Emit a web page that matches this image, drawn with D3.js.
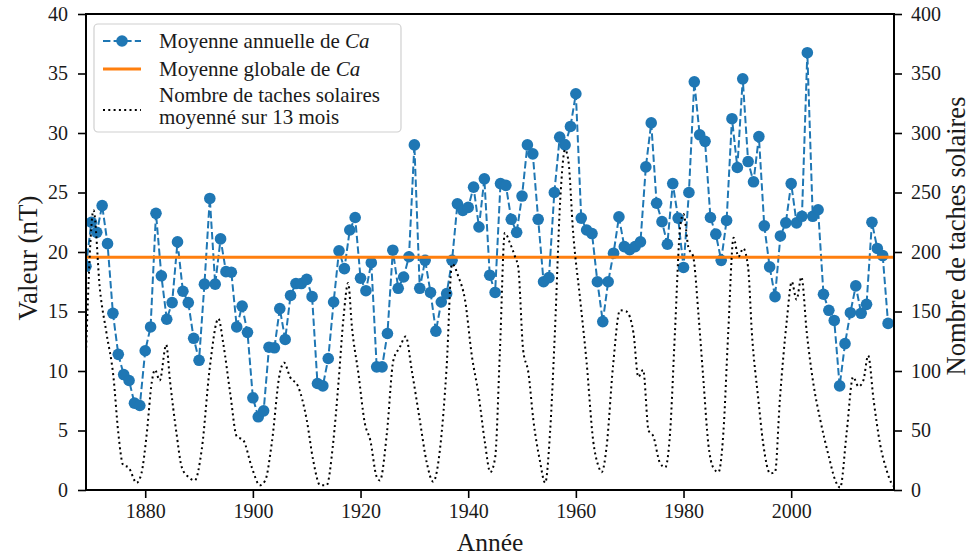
<!DOCTYPE html>
<html>
<head>
<meta charset="utf-8">
<script src="https://cdn.jsdelivr.net/npm/d3@7"></script>
<style>
  body { margin: 0; background: #fff; }
  svg text { font-family: "Liberation Serif", "Times New Roman", Times, "DejaVu Serif", serif; }
</style>
</head>
<body>
<div id="viz"></div>
<script>
// annual mean of Ca, one value per year from 1869 to 2018
const years = d3.range(1869, 2019);
const caAnnual = [
  18.8, 22.5, 21.65, 23.9, 20.7, 14.85, 11.4, 9.7, 9.2, 7.3,
  7.1, 11.7, 13.7, 23.25, 18.0, 14.35, 15.75, 20.85, 16.7, 15.75,
  12.75, 10.9, 17.3, 24.5, 17.3, 21.1, 18.35, 18.3, 13.7, 15.45,
  13.25, 7.75, 6.15, 6.65, 12.0, 11.95, 15.25, 12.65, 16.35, 17.35,
  17.35, 17.7, 16.25, 8.95, 8.75, 11.05, 15.8, 20.1, 18.6, 21.85,
  22.9, 17.8, 16.75, 19.1, 10.35, 10.35, 13.15, 20.15, 16.95, 17.9,
  19.6, 29.0, 16.95, 19.3, 16.6, 13.35, 15.8, 16.5, 19.3, 24.05,
  23.5, 23.75, 25.45, 22.1, 26.15, 18.05, 16.6, 25.75, 25.6, 22.75,
  21.65, 24.7, 29.0, 28.25, 22.75, 17.5, 17.85, 25.0, 29.65, 29.0,
  30.55, 33.3, 22.85, 21.85, 21.55, 17.5, 14.15, 17.5, 19.9, 22.95,
  20.45, 20.2, 20.45, 20.85, 27.15, 30.85, 24.1, 22.55, 20.65, 25.75,
  22.85, 18.7, 25.0, 34.3, 29.85, 29.3, 22.9, 21.5, 19.3, 22.65,
  31.2, 27.1, 34.55, 27.6, 25.9, 29.7, 22.2, 18.75, 16.25, 21.35,
  22.45, 25.75, 22.45, 23.0, 36.75, 23.0, 23.55, 16.45, 15.1, 14.25,
  8.75, 12.3, 14.9, 17.15, 14.85, 15.6, 22.5, 20.3, 19.7, 14.0
];
const globalMean = 19.55;

// sunspot number, 13-month smoothed
const ssnYears = [
  1869.0, 1870.4, 1871.6, 1872.8, 1874.1, 1875.0, 1875.9, 1876.9, 1878.4, 1879.3,
  1880.3, 1881.2, 1881.8, 1882.7, 1883.9, 1884.6, 1885.8, 1886.8, 1888.0, 1889.2,
  1890.5, 1892.0, 1893.6, 1894.5, 1895.8, 1897.0, 1898.2, 1899.8, 1901.3, 1902.3,
  1903.5, 1905.0, 1905.8, 1906.9, 1908.4, 1910.0, 1911.2, 1912.5, 1913.7, 1914.9,
  1915.9, 1916.8, 1917.7, 1918.4, 1919.6, 1920.8, 1921.8, 1923.0, 1923.6, 1924.9,
  1926.1, 1927.3, 1928.4, 1929.5, 1931.0, 1932.3, 1933.5, 1934.8, 1936.0, 1937.0,
  1938.2, 1939.4, 1940.7, 1941.9, 1943.1, 1944.1, 1945.0, 1945.9, 1946.8, 1947.8,
  1948.7, 1949.3, 1950.2, 1951.2, 1952.1, 1953.3, 1954.3, 1955.2, 1956.1, 1957.1,
  1958.0, 1958.6, 1959.5, 1960.8, 1962.0, 1963.2, 1964.2, 1964.8, 1965.7, 1966.9,
  1968.2, 1969.4, 1970.7, 1971.6, 1972.5, 1973.5, 1974.4, 1975.6, 1976.6, 1977.5,
  1978.4, 1979.4, 1980.0, 1980.9, 1981.8, 1982.8, 1983.7, 1984.6, 1985.5, 1986.5,
  1987.4, 1988.3, 1989.3, 1990.2, 1991.1, 1992.0, 1992.7, 1993.9, 1994.8, 1996.1,
  1997.0, 1997.9, 1999.2, 2000.1, 2001.0, 2001.9, 2002.9, 2004.1, 2005.4, 2007.0,
  2008.2, 2009.1, 2010.3, 2011.5, 2012.5, 2013.4, 2014.3, 2015.3, 2016.5, 2017.7,
  2018.6, 2019.1
];
const ssnValues = [
  115, 235, 168, 132, 95, 48, 21, 19, 6, 14,
  48, 90, 101, 92, 122, 92, 48, 19, 11, 8,
  34, 103, 144, 123, 81, 45, 42, 19, 4, 8,
  39, 98, 107, 95, 87, 59, 25, 4, 4, 39,
  90, 143, 174, 137, 98, 56, 42, 11, 8, 48,
  109, 120, 129, 101, 59, 23, 7, 36, 104, 190,
  179, 160, 112, 81, 40, 15, 27, 118, 216, 207,
  196, 187, 118, 98, 59, 25, 6, 48, 132, 244,
  286, 277, 216, 160, 107, 42, 20, 15, 36, 104,
  151, 150, 132, 95, 101, 50, 45, 23, 19, 48,
  132, 222, 232, 204, 196, 146, 92, 39, 19, 15,
  48, 132, 212, 196, 203, 187, 132, 76, 39, 14,
  15, 76, 143, 175, 160, 179, 132, 90, 59, 28,
  8, 2, 48, 95, 87, 92, 113, 76, 39, 17,
  6, 3
];

const xTicks = [1880, 1900, 1920, 1940, 1960, 1980, 2000];
const leftTicks = [0, 5, 10, 15, 20, 25, 30, 35, 40];
const rightTicks = [0, 50, 100, 150, 200, 250, 300, 350, 400];

const width = 973, height = 558;
const margin = { left: 86, right: 79, top: 14, bottom: 68 };
const plotW = width - margin.left - margin.right;
const plotH = height - margin.top - margin.bottom;

const blue = '#1f77b4', orange = '#ff7f0e';
const serif = '"Liberation Serif", "Times New Roman", Times, "DejaVu Serif", serif';

const svg = d3.select('#viz').append('svg')
  .attr('width', width)
  .attr('height', height);

const x = d3.scaleLinear().domain([1869, 2019.1]).range([margin.left, margin.left + plotW]);
const yL = d3.scaleLinear().domain([0, 40]).range([margin.top + plotH, margin.top]);
const yR = d3.scaleLinear().domain([0, 400]).range([margin.top + plotH, margin.top]);

svg.append('clipPath').attr('id', 'plot-clip')
  .append('rect')
  .attr('x', margin.left).attr('y', margin.top)
  .attr('width', plotW).attr('height', plotH);

const plot = svg.append('g').attr('clip-path', 'url(#plot-clip)');

// annual mean, dashed with markers
const caData = years.map((yr, i) => ({ yr, v: caAnnual[i] }));
plot.append('path')
  .datum(caData)
  .attr('fill', 'none')
  .attr('stroke', blue)
  .attr('stroke-width', 2)
  .attr('stroke-dasharray', '7.4,3.2')
  .attr('d', d3.line().x(d => x(d.yr)).y(d => yL(d.v)));

plot.append('g')
  .selectAll('circle')
  .data(caData)
  .enter().append('circle')
    .attr('cx', d => x(d.yr))
    .attr('cy', d => yL(d.v))
    .attr('r', 5.8)
    .attr('fill', blue);

// global mean
plot.append('line')
  .attr('x1', margin.left).attr('x2', margin.left + plotW)
  .attr('y1', yL(globalMean)).attr('y2', yL(globalMean))
  .attr('stroke', orange)
  .attr('stroke-width', 3);

// sunspots on the twin axis
const ssnData = ssnYears.map((t, i) => ({ t, v: ssnValues[i] }));
plot.append('path')
  .datum(ssnData)
  .attr('fill', 'none')
  .attr('stroke', '#000')
  .attr('stroke-width', 2)
  .attr('stroke-dasharray', '2,3.3')
  .attr('d', d3.line().curve(d3.curveMonotoneX).x(d => x(d.t)).y(d => yR(d.v)));

// axes
function styleAxis(g) {
  g.attr('font-family', serif).attr('font-size', 20);
  g.selectAll('.domain').remove();
  g.selectAll('.tick line').attr('stroke', '#000').attr('stroke-width', 1.6);
  g.selectAll('.tick text')
    .attr('fill', '#1a1a1a')
    .style('font-size', '20px')
    .style('font-family', serif);
}

svg.append('g')
  .attr('transform', `translate(0,${margin.top + plotH})`)
  .call(d3.axisBottom(x).tickValues(xTicks).tickFormat(d3.format('d')).tickSize(8).tickPadding(6))
  .call(styleAxis);

svg.append('g')
  .attr('transform', `translate(${margin.left},0)`)
  .call(d3.axisLeft(yL).tickValues(leftTicks).tickSize(8).tickPadding(10))
  .call(styleAxis);

svg.append('g')
  .attr('transform', `translate(${margin.left + plotW},0)`)
  .call(d3.axisRight(yR).tickValues(rightTicks).tickSize(8).tickPadding(9))
  .call(styleAxis);

// frame
svg.append('rect')
  .attr('x', margin.left).attr('y', margin.top)
  .attr('width', plotW).attr('height', plotH)
  .attr('fill', 'none')
  .attr('stroke', '#000')
  .attr('stroke-width', 2);

// axis labels
svg.append('text')
  .attr('x', margin.left + plotW / 2)
  .attr('y', 551)
  .attr('text-anchor', 'middle')
  .style('font-size', '25.5px')
  .style('font-family', serif)
  .attr('fill', '#1a1a1a')
  .text('Année');

svg.append('text')
  .attr('transform', `translate(37,258) rotate(-90)`)
  .attr('text-anchor', 'middle')
  .style('font-size', '27px')
  .style('font-family', serif)
  .attr('fill', '#1a1a1a')
  .text('Valeur (nT)');

svg.append('text')
  .attr('transform', `translate(965,236) rotate(-90)`)
  .attr('text-anchor', 'middle')
  .style('font-size', '26.5px')
  .style('font-family', serif)
  .attr('fill', '#1a1a1a')
  .text('Nombre de taches solaires');

// legend
const legend = svg.append('g');
legend.append('rect')
  .attr('x', 94).attr('y', 24)
  .attr('width', 307).attr('height', 108)
  .attr('rx', 4)
  .attr('fill', '#fff').attr('fill-opacity', 0.8)
  .attr('stroke', '#d0d0d0').attr('stroke-width', 1.2);

legend.append('line')
  .attr('x1', 103).attr('x2', 141).attr('y1', 41).attr('y2', 41)
  .attr('stroke', blue).attr('stroke-width', 2).attr('stroke-dasharray', '7.4,3.2');
legend.append('circle').attr('cx', 122).attr('cy', 41).attr('r', 5.8).attr('fill', blue);

legend.append('line')
  .attr('x1', 103).attr('x2', 141).attr('y1', 69).attr('y2', 69)
  .attr('stroke', orange).attr('stroke-width', 3);

legend.append('line')
  .attr('x1', 103).attr('x2', 141).attr('y1', 110).attr('y2', 110)
  .attr('stroke', '#000').attr('stroke-width', 2).attr('stroke-dasharray', '2,3.3');

const legendRows = [
  { y: 48, lines: [[['Moyenne annuelle de ', false], ['Ca', true]]] },
  { y: 76, lines: [[['Moyenne globale de ', false], ['Ca', true]]] },
  { y: 102, lines: [[['Nombre de taches solaires', false]], [['moyenné sur 13 mois', false]]] }
];
legendRows.forEach(row => {
  const t = legend.append('text')
    .attr('x', 159).attr('y', row.y)
    .style('font-size', '21px')
    .style('font-family', serif)
    .attr('fill', '#1a1a1a');
  row.lines.forEach((parts, li) => {
    parts.forEach(([s, it], pi) => {
      const ts = t.append('tspan').style('font-style', it ? 'italic' : 'normal').text(s);
      if (li > 0 && pi === 0) ts.attr('x', 159).attr('dy', 22);
    });
  });
});
</script>
</body>
</html>
